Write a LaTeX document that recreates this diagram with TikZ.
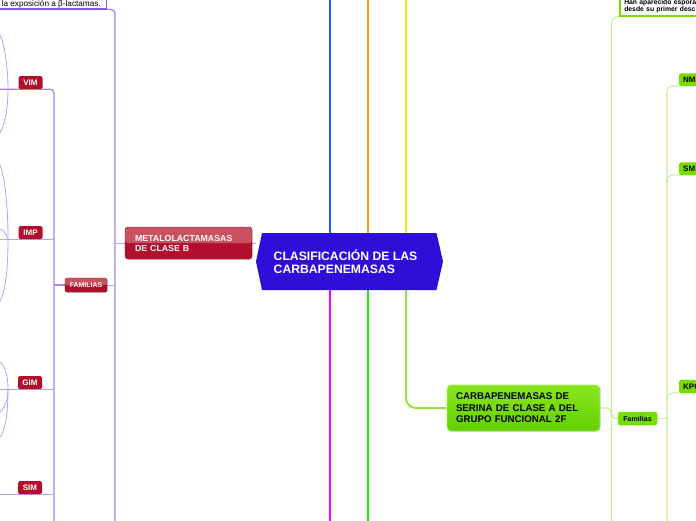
\documentclass[tikz,border=0pt]{standalone}
\usepackage{fontspec}
\setmainfont{Liberation Sans}
\usetikzlibrary{calc,shadows}
\pgfdeclarelayer{bg}
\pgfsetlayers{bg,main}
\definecolor{hexblue}{HTML}{2E0FD9}
\definecolor{redD}{HTML}{B20F2C}
\definecolor{redL}{HTML}{C9515F}
\definecolor{purV}{HTML}{A583F5}
\definecolor{purH}{HTML}{B7A0F8}
\definecolor{purB}{HTML}{8A55F0}
\definecolor{grnN}{HTML}{77DD00}
\definecolor{grnT}{HTML}{8AE61E}
\definecolor{grnB}{HTML}{62CF00}
\definecolor{grnLine}{HTML}{C8F0A0}
\definecolor{lnBlue}{HTML}{1A5CFF}
\definecolor{lnOrange}{HTML}{FF9A00}
\definecolor{lnYellow}{HTML}{F2F200}
\definecolor{lnMag}{HTML}{FF00FF}
\definecolor{lnGreen}{HTML}{22EE00}
\definecolor{lnLime}{HTML}{99E23C}
\begin{document}
\begin{tikzpicture}[x=1pt,y=-1pt,
  hexarea/.style={minimum width=187pt,minimum height=57pt,inner sep=0pt},
  hextext/.style={text=white,font=\fontsize{12.2}{13}\selectfont\bfseries,align=left,inner sep=0pt},
  redbig/.style={rounded corners=3pt,fill=redD,draw=redD!80!black,line width=0.3pt,text=white,
    font=\fontsize{8.8}{10}\selectfont\bfseries,align=left,inner xsep=10pt,inner ysep=0pt,
    drop shadow={shadow xshift=0.6pt,shadow yshift=-0.9pt,opacity=0.35},
    path picture={\fill[redL] (path picture bounding box.north west) rectangle (path picture bounding box.east);}},
  redsmall/.style={rounded corners=1.5pt,fill=redD,text=white,font=\fontsize{8}{9}\selectfont\bfseries,
    minimum width=24pt,minimum height=13pt,inner sep=0pt},
  famred/.style={rounded corners=1.5pt,fill=redD,draw=redD!70!black,line width=0.3pt,text=white,
    font=\fontsize{6.9}{8}\selectfont\bfseries,minimum width=42pt,minimum height=14pt,inner sep=0pt,
    drop shadow={shadow xshift=0.6pt,shadow yshift=-0.9pt,opacity=0.35},
    path picture={\fill[redL] (path picture bounding box.north west) rectangle (path picture bounding box.east);}},
  grnbig/.style={rounded corners=4pt,top color=grnT,bottom color=grnB,draw=grnT!70!white,line width=0.6pt,
    font=\fontsize{9.7}{11.5}\selectfont\bfseries,align=left,text width=135pt,inner xsep=9pt,
    minimum width=153pt,minimum height=46pt,
    drop shadow={shadow xshift=0.6pt,shadow yshift=-0.9pt,opacity=0.3}},
  grnsmall/.style={rounded corners=1.5pt,fill=grnN,draw=grnN!80!white,line width=0.5pt,
    font=\fontsize{7.1}{8}\selectfont\bfseries,minimum width=39pt,minimum height=13pt,inner sep=0pt},
  grnlab/.style={rounded corners=1.5pt,fill=grnN,font=\fontsize{8}{9}\selectfont\bfseries,
    anchor=south west,minimum width=40pt,minimum height=12.5pt,inner xsep=4pt,inner ysep=0pt,text width=32pt,align=left},
  purcon/.style={purH,line width=0.9pt},
  purvert/.style={purV,line width=1.3pt},
  purcurve/.style={purH,line width=0.8pt},
  grncon/.style={grnLine,line width=1.1pt},
  bigline/.style={line width=2.2pt}]
\useasboundingbox (0,0) rectangle (696,520);
\clip (0,0) rectangle (696,520);

% ---------- nodes ----------
\node[hexarea] (center) at (349.5,261.5) {};
\fill[hexblue] (256,261.5) -- (262,233) -- (436.5,233) -- (443,261.5) -- (436.5,290) -- (262,290) -- cycle;
\node[hextext,anchor=west] (centertext) at (273.5,261.5) {CLASIFICACIÓN DE LAS\\CARBAPENEMASAS};

\node[redbig,minimum width=127pt,minimum height=32pt,text width=107pt] (metal) at (188.5,243) {METALOLACTAMASAS\\DE CLASE B};
\node[famred] (fam) at (86,285) {FAMILIAS};
\node[redsmall] (vim) at (30.5,82.5) {VIM};
\node[redsmall] (imp) at (30.5,232.5) {IMP};
\node[redsmall] (gim) at (30,382.5) {GIM};
\node[redsmall] (sim) at (30,487.5) {SIM};

\node[draw=purB,line width=1.2pt,fill=white,anchor=south east,minimum width=130pt,minimum height=40pt] (topbox) at (107,9.5) {};
\node[anchor=base west,inner sep=0pt,font=\fontsize{8.2}{9}\selectfont] (toptext) at (1.5,6.6) {la exposición a β-lactamas.};

\node[grnbig] (carb) at (523.5,408) {CARBAPENEMASAS DE\\SERINA DE CLASE A DEL\\GRUPO FUNCIONAL 2F};
\node[grnsmall] (fam2) at (637.5,418.5) {Familias};
\node[grnlab] (nm) at (679,86) {NM};
\node[grnlab] (sm) at (679,175) {SM};
\node[grnlab,minimum height=13pt] (kpc) at (679,393) {KPC};
\node[draw=grnN,line width=1.6pt,fill=white,anchor=south west,align=left,text width=100pt,
  inner xsep=4.5pt,inner ysep=2.6pt,font=\fontsize{6.8}{7.4}\selectfont\bfseries] (hanbox) at (619,16.5)
  {Han aparecido esporá\\desde su primer desc};

% ---------- free ends ----------
\coordinate (topend) at (0,-3);
\coordinate (botend) at (0,523);
\coordinate (leftend) at (0,0);
\coordinate (vA) at (115,0);
\coordinate (vB) at (54,0);
\coordinate (vC) at (611.5,0);
\coordinate (vD) at (667,0);

% ---------- connectors ----------
\begin{pgfonlayer}{bg}
\draw[bigline,lnBlue] (center.north -| 330,0) -- (topend -| 330,0);
\draw[bigline,lnOrange] (center.north -| 368,0) -- (topend -| 368,0);
\draw[bigline,lnYellow] (center.north -| 406,0) -- (topend -| 406,0);
\draw[bigline,lnMag] (center.south -| 330,0) -- (botend -| 330,0);
\draw[bigline,lnGreen] (center.south -| 368,0) -- (botend -| 368,0);
\draw[lnLime,line width=2pt,rounded corners=10pt] (center.south -| 406,0) -- (carb.west -| 406,0) -- (carb.west);

\draw[purcon] (metal.east) -- (metal.east -| center.west);
\draw[purvert,rounded corners=4pt] (topbox.south east) -- (topbox.south -| vA) -- (botend -| vA);
\draw[purcon] (metal.west) -- (metal.west -| vA);
\draw[purcon] (fam.east) -- (fam.east -| vA);

\draw[purvert,rounded corners=4pt] (vim.south -| leftend) -- (vim.south -| vB) -- (botend -| vB);
\draw[purcon] (imp.south -| leftend) -- (imp.south -| vB);
\draw[purcon] (gim.south -| leftend) -- (gim.south -| vB);
\draw[purcon] (sim.south -| leftend) -- (sim.south -| vB);
\draw[purvert] (fam.west) -- (fam.west -| vB);

% curves of children off the left edge
\draw[purcurve] (8,89) .. controls (8,70) and (5,45) .. (0,35);
\draw[purcurve] (8,89) .. controls (8,108) and (5,125) .. (0,133);
\draw[purcurve] (8,239) .. controls (8,205) and (5,178) .. (0,165);
\draw[purcurve] (8,239) .. controls (8,272) and (5,292) .. (0,302);
\draw[purcurve] (8,239) .. controls (6,233) and (3,230) .. (0,229);
\draw[purcurve] (8,389) .. controls (8,375) and (5,366) .. (0,362);
\draw[purcurve] (8,389) .. controls (8,400) and (5,408) .. (0,412);
\draw[purcurve] (8,389) .. controls (8,415) and (5,431) .. (0,437);

% right side
\draw[grncon,rounded corners=7pt] (hanbox.south west) -- (hanbox.south west -| vC) -- (botend -| vC);
\draw[grncon,rounded corners=5pt] (carb.east) -- (carb.east -| vC) -- (fam2.west -| vC) -- (fam2.west);
\draw[grncon] (fam2.east) -- (fam2.east -| vD);
\draw[grncon,rounded corners=5pt] (nm.south east) -- (nm.south -| vD) -- (botend -| vD);
\draw[grncon,rounded corners=5pt] (sm.south east) -- (sm.south -| vD) -- ($(sm.south -| vD)+(0,8)$);
\draw[grncon,rounded corners=5pt] (kpc.south east) -- (kpc.south -| vD) -- ($(kpc.south -| vD)+(0,8)$);
\end{pgfonlayer}
\end{tikzpicture}
\end{document}
